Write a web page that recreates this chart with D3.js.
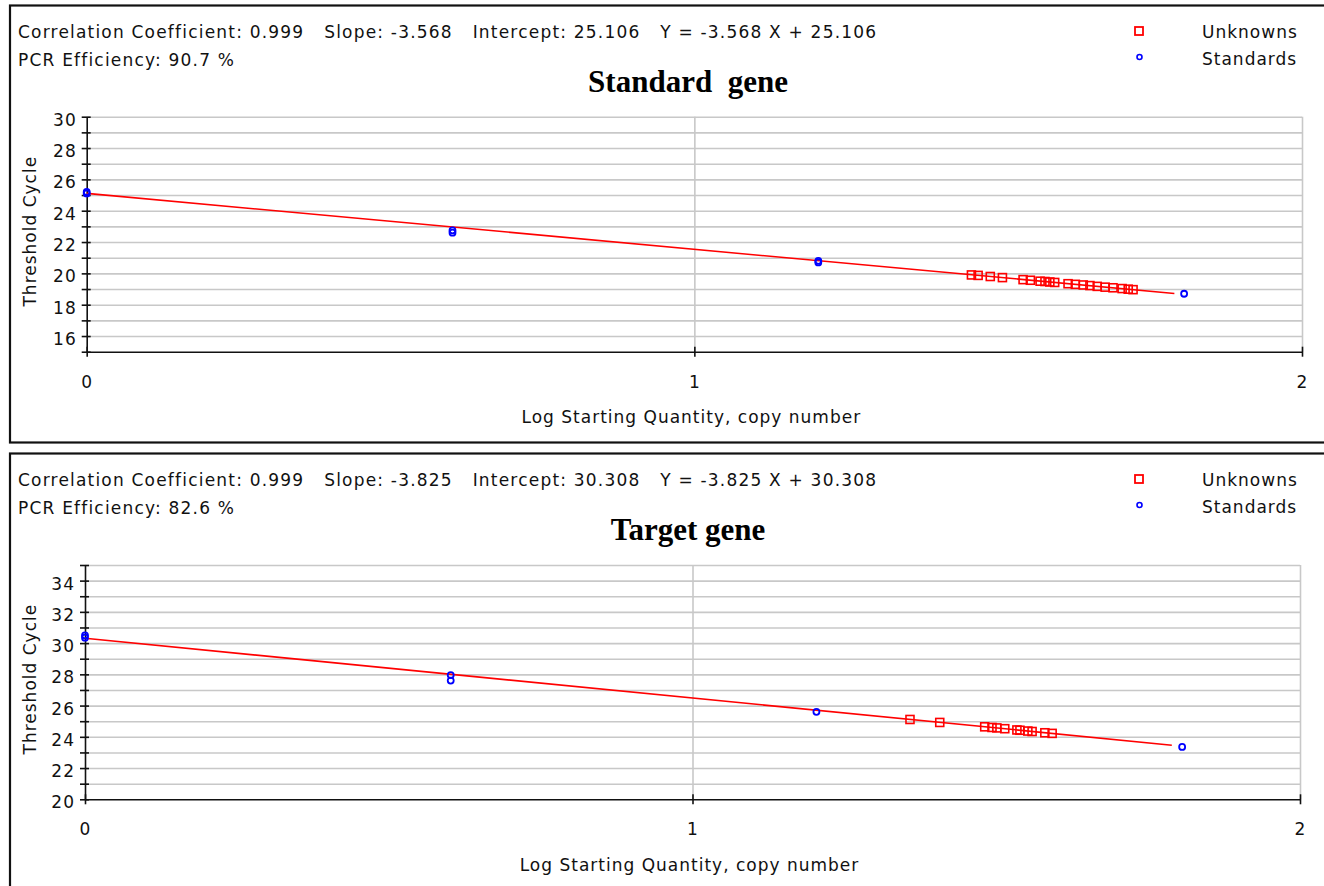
<!DOCTYPE html>
<html>
<head>
<meta charset="utf-8">
<script src="https://cdn.jsdelivr.net/npm/d3@7"></script>
<style>
	body { margin: 0; background: #fff; }
	svg text { font-family: "DejaVu Sans", sans-serif; font-size: 17px; letter-spacing: 1px; fill: #111; }
	.title { font-family: "Liberation Serif", "Times New Roman", serif; font-size: 31px; font-weight: bold; letter-spacing: 0; fill: #000; white-space: pre; }
	.header { white-space: pre; letter-spacing: 1.2px; }
	.grid line { stroke: #c8c8c8; stroke-width: 1.6; }
	.grid .domain { display: none; }
	.axis path, .axis line { stroke: #111; stroke-width: 1.6; }
</style>
</head>
<body>
<div id="chart"></div>
<script>
// tick labels / axis
const xTicks = [0, 1, 2];

// Standard gene
const stdGeneStdX = [0, 0, 0.602, 0.602, 1.204, 1.204, 1.806];
const stdGeneStdY = [25.2, 25.1, 22.75, 22.6, 20.8, 20.7, 18.7];
const stdGeneUnkX = [1.456, 1.467, 1.487, 1.507, 1.541, 1.553, 1.569, 1.577, 1.585, 1.593,
	1.615, 1.627, 1.640, 1.651, 1.663, 1.676, 1.689, 1.704, 1.714, 1.722];
const stdGeneUnkY = [19.9, 19.87, 19.8, 19.73, 19.6, 19.56, 19.5, 19.48, 19.45, 19.42,
	19.34, 19.3, 19.26, 19.22, 19.17, 19.12, 19.08, 19.03, 18.99, 18.96];
const stdGeneFit = { slope: -3.568, intercept: 25.106, xEnd: 1.79 };

// Target gene
const tgtGeneStdX = [0, 0, 0.602, 0.602, 1.204, 1.806];
const tgtGeneStdY = [30.5, 30.35, 27.95, 27.6, 25.6, 23.35];
const tgtGeneUnkX = [1.358, 1.407, 1.481, 1.493, 1.501, 1.514, 1.534, 1.539, 1.552, 1.559, 1.580, 1.592];
const tgtGeneUnkY = [25.11, 24.92, 24.64, 24.6, 24.57, 24.52, 24.44, 24.42, 24.37, 24.34, 24.26, 24.22];
const tgtGeneFit = { slope: -3.825, intercept: 30.308, xEnd: 1.789 };

const panels = [
	{
		title: "Standard  gene",
		line1: "Correlation Coefficient: 0.999   Slope: -3.568   Intercept: 25.106   Y = -3.568 X + 25.106",
		line2: "PCR Efficiency: 90.7 %",
		yDomain: [15, 30],
		std: stdGeneStdX.map((x, i) => [x, stdGeneStdY[i]]),
		unk: stdGeneUnkX.map((x, i) => [x, stdGeneUnkY[i]]),
		fit: stdGeneFit,
		oy: 0, left: 86.7, right: 1302, top: 116.7, bottom: 351.7,
	},
	{
		title: "Target gene",
		line1: "Correlation Coefficient: 0.999   Slope: -3.825   Intercept: 30.308   Y = -3.825 X + 30.308",
		line2: "PCR Efficiency: 82.6 %",
		yDomain: [20, 35],
		std: tgtGeneStdX.map((x, i) => [x, tgtGeneStdY[i]]),
		unk: tgtGeneUnkX.map((x, i) => [x, tgtGeneUnkY[i]]),
		fit: tgtGeneFit,
		oy: 448, left: 85, right: 1300, top: 565, bottom: 799.3,
	},
];

const svg = d3.select("#chart")
	.append("svg")
	.attr("width", 1324)
	.attr("height", 886);

panels.forEach((p) => {
	const g = svg.append("g");

	// panel frame
	g.append("rect")
		.attr("x", 10)
		.attr("y", p.oy + 5.5)
		.attr("width", 1400)
		.attr("height", 437)
		.attr("fill", "#fff")
		.attr("stroke", "#111")
		.attr("stroke-width", 2.2);

	const x = d3.scaleLinear().domain([0, 2]).range([p.left, p.right]);
	const y = d3.scaleLinear().domain(p.yDomain).range([p.bottom, p.top]);
	const yTicks = d3.range(p.yDomain[0], p.yDomain[1] + 1);

	// header text
	g.append("text").attr("class", "header").attr("x", 18).attr("y", p.oy + 38).text(p.line1);
	g.append("text").attr("class", "header").attr("x", 18).attr("y", p.oy + 66).text(p.line2);
	g.append("text")
		.attr("class", "title")
		.attr("x", 688)
		.attr("y", p.oy + 92)
		.attr("text-anchor", "middle")
		.text(p.title);

	// legend
	g.append("rect")
		.attr("x", 1135).attr("y", p.oy + 27)
		.attr("width", 8).attr("height", 8)
		.attr("fill", "none").attr("stroke", "#ff0000").attr("stroke-width", 1.8);
	g.append("circle")
		.attr("cx", 1139.5).attr("cy", p.oy + 57).attr("r", 2.5)
		.attr("fill", "none").attr("stroke", "#0000ff").attr("stroke-width", 1.6);
	g.append("text").attr("x", 1202).attr("y", p.oy + 38).text("Unknowns");
	g.append("text").attr("x", 1202).attr("y", p.oy + 65).text("Standards");

	// grid
	g.append("g")
		.attr("class", "grid")
		.attr("transform", `translate(${p.left}, 0)`)
		.call(d3.axisLeft(y).tickValues(yTicks.slice(1)).tickFormat("").tickSize(-(p.right - p.left)));
	g.append("g")
		.attr("class", "grid")
		.attr("transform", `translate(0, ${p.bottom})`)
		.call(d3.axisBottom(x).tickValues([1, 2]).tickFormat("").tickSize(-(p.bottom - p.top)));

	// y axis
	const yAxis = g.append("g")
		.attr("class", "axis")
		.attr("transform", `translate(${p.left}, 0)`)
		.call(
			d3.axisLeft(y)
				.tickValues(yTicks)
				.tickSize(5)
				.tickSizeOuter(0)
				.tickPadding(5)
				.tickFormat((d) => (d % 2 === 0 ? d : "")),
		);
	yAxis.selectAll(".tick line").attr("x1", 4);
	yAxis.selectAll(".tick text").attr("dy", "0.5em");

	// x axis
	const xAxis = g.append("g")
		.attr("class", "axis")
		.attr("transform", `translate(0, ${p.bottom})`)
		.call(d3.axisBottom(x).tickValues(xTicks).tickFormat(d3.format("d")).tickSize(5).tickSizeOuter(0));
	xAxis.selectAll(".tick line").attr("y1", -5);
	xAxis.selectAll(".tick text").attr("dy", null).attr("y", 36);
	yAxis.selectAll("text").attr("font-size", null).attr("font-family", null);
	xAxis.selectAll("text").attr("font-size", null).attr("font-family", null);

	// axis titles
	g.append("text")
		.attr("transform", `translate(36, ${(p.top + p.bottom) / 2 - 3}) rotate(-90)`)
		.attr("text-anchor", "middle")
		.text("Threshold Cycle");
	g.append("text")
		.attr("x", (p.left + p.right) / 2 - 3)
		.attr("y", p.oy + 423)
		.attr("text-anchor", "middle")
		.text("Log Starting Quantity, copy number");

	// fit line
	const fitPts = [0, p.fit.xEnd].map((v) => [v, p.fit.slope * v + p.fit.intercept]);
	g.append("path")
		.datum(fitPts)
		.attr("d", d3.line().x(([a]) => x(a)).y(([_, b]) => y(b)))
		.attr("fill", "none")
		.attr("stroke", "#ff0000")
		.attr("stroke-width", 1.6);

	// unknowns
	g.append("g")
		.selectAll("rect")
		.data(p.unk)
		.join("rect")
		.attr("x", ([a]) => x(a) - 4)
		.attr("y", ([_, b]) => y(b) - 4)
		.attr("width", 8)
		.attr("height", 8)
		.attr("fill", "none")
		.attr("stroke", "#ff0000")
		.attr("stroke-width", 1.6);

	// standards
	g.append("g")
		.selectAll("circle")
		.data(p.std)
		.join("circle")
		.attr("cx", ([a]) => x(a))
		.attr("cy", ([_, b]) => y(b))
		.attr("r", 3)
		.attr("fill", "none")
		.attr("stroke", "#0000ff")
		.attr("stroke-width", 1.8);
});
</script>
</body>
</html>
